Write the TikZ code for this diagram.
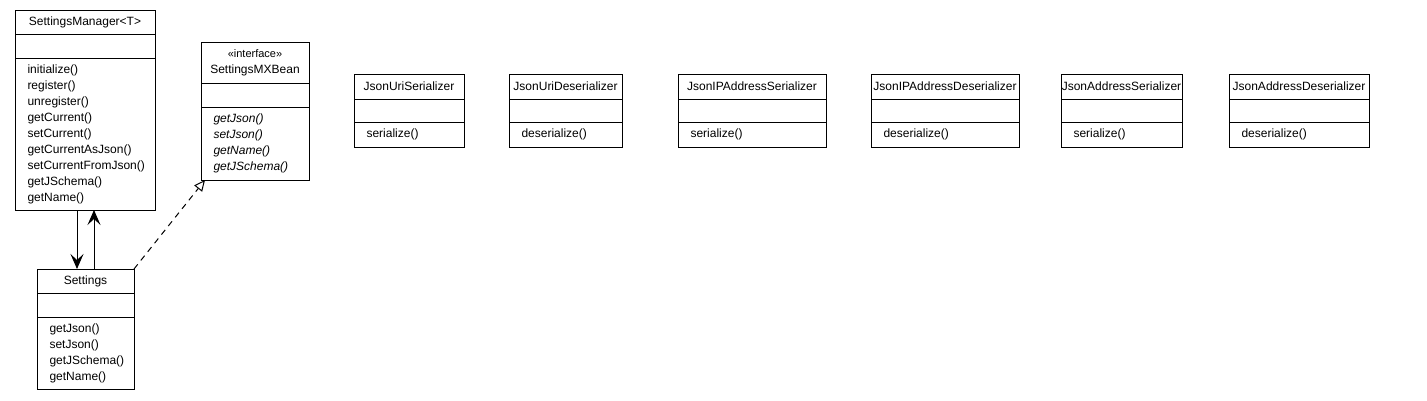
\documentclass[tikz,border=0pt]{standalone}
\usepackage{fontspec}
\setmainfont{Liberation Sans}
\usetikzlibrary{positioning,arrows.meta}

\begin{document}
\begin{tikzpicture}[x=1pt,y=-1pt]
\tikzset{every node/.style={font=\fontsize{12}{16}\selectfont}}
\tikzset{umlbox/.style={draw,line width=1pt,outer sep=0pt,inner sep=0pt,anchor=north west}}
\tikzset{head/.style={umlbox,minimum height=24pt,align=center}}
\tikzset{attrs/.style={umlbox,minimum height=24pt}}
\tikzset{ops/.style={umlbox,align=left,inner xsep=12.5pt}}
\tikzset{assoc/.style={line width=1pt,-{Stealth[length=15pt,width=13pt,inset=6pt]}}}
\tikzset{realize/.style={line width=1pt,dash pattern=on 6pt off 5pt,-{Triangle[open,length=11pt,width=10pt]}}}
\useasboundingbox (0,0) rectangle (1427,400);

\node[head,minimum width=140] (mgr) at (15,10) {SettingsManager<T>};
\node[attrs,minimum width=140,below=0pt of mgr] (mgr-a) {};
\node[ops,minimum width=140,text width=115pt,minimum height=152,below=0pt of mgr-a] (mgr-o)
{initialize()\\register()\\unregister()\\getCurrent()\\setCurrent()\\getCurrentAsJson()\\setCurrentFromJson()\\getJSchema()\\getName()};

\node[head,minimum width=108,minimum height=41] (mxb) at (201,42) {{\fontsize{11}{17}\selectfont «interface»}\\SettingsMXBean};
\node[attrs,minimum width=108,below=0pt of mxb] (mxb-a) {};
\node[ops,minimum width=108,text width=83pt,minimum height=73,below=0pt of mxb-a,
  font=\fontsize{12}{16}\selectfont\itshape] (mxb-o)
{getJson()\\setJson()\\getName()\\getJSchema()};

\node[head,minimum width=97] (set) at (37,269) {Settings};
\node[attrs,minimum width=97,below=0pt of set] (set-a) {};
\node[ops,minimum width=97,text width=72pt,minimum height=72,below=0pt of set-a] (set-o)
{getJson()\\setJson()\\getJSchema()\\getName()};

\foreach \nm/\xl/\w/\op [count=\i, evaluate=\w as \tw using \w-25] in
  {JsonUriSerializer/354/110/serialize(),
   JsonUriDeserializer/509/113/deserialize(),
   JsonIPAddressSerializer/678/148/serialize(),
   JsonIPAddressDeserializer/871/148/deserialize(),
   JsonAddressSerializer/1061/121/serialize(),
   JsonAddressDeserializer/1229/140/deserialize()}
{
  \node[head,minimum width=\w,minimum height=25] (js\i) at (\xl,74) {\nm};
  \node[attrs,minimum width=\w,minimum height=23,below=0pt of js\i] (js\i-a) {};
  \node[ops,minimum width=\w,text width=\tw pt,minimum height=25,below=0pt of js\i-a] (js\i-o) {\op};
}

\draw[assoc] ([xshift=62pt]mgr-o.south west) -- ([xshift=40pt]set.north west);
\draw[assoc] ([xshift=57pt]set.north west) -- ([xshift=79pt]mgr-o.south west);
\draw[realize] (set.north east) -- ([xshift=4pt]mxb-o.south west);
\end{tikzpicture}
\end{document}
